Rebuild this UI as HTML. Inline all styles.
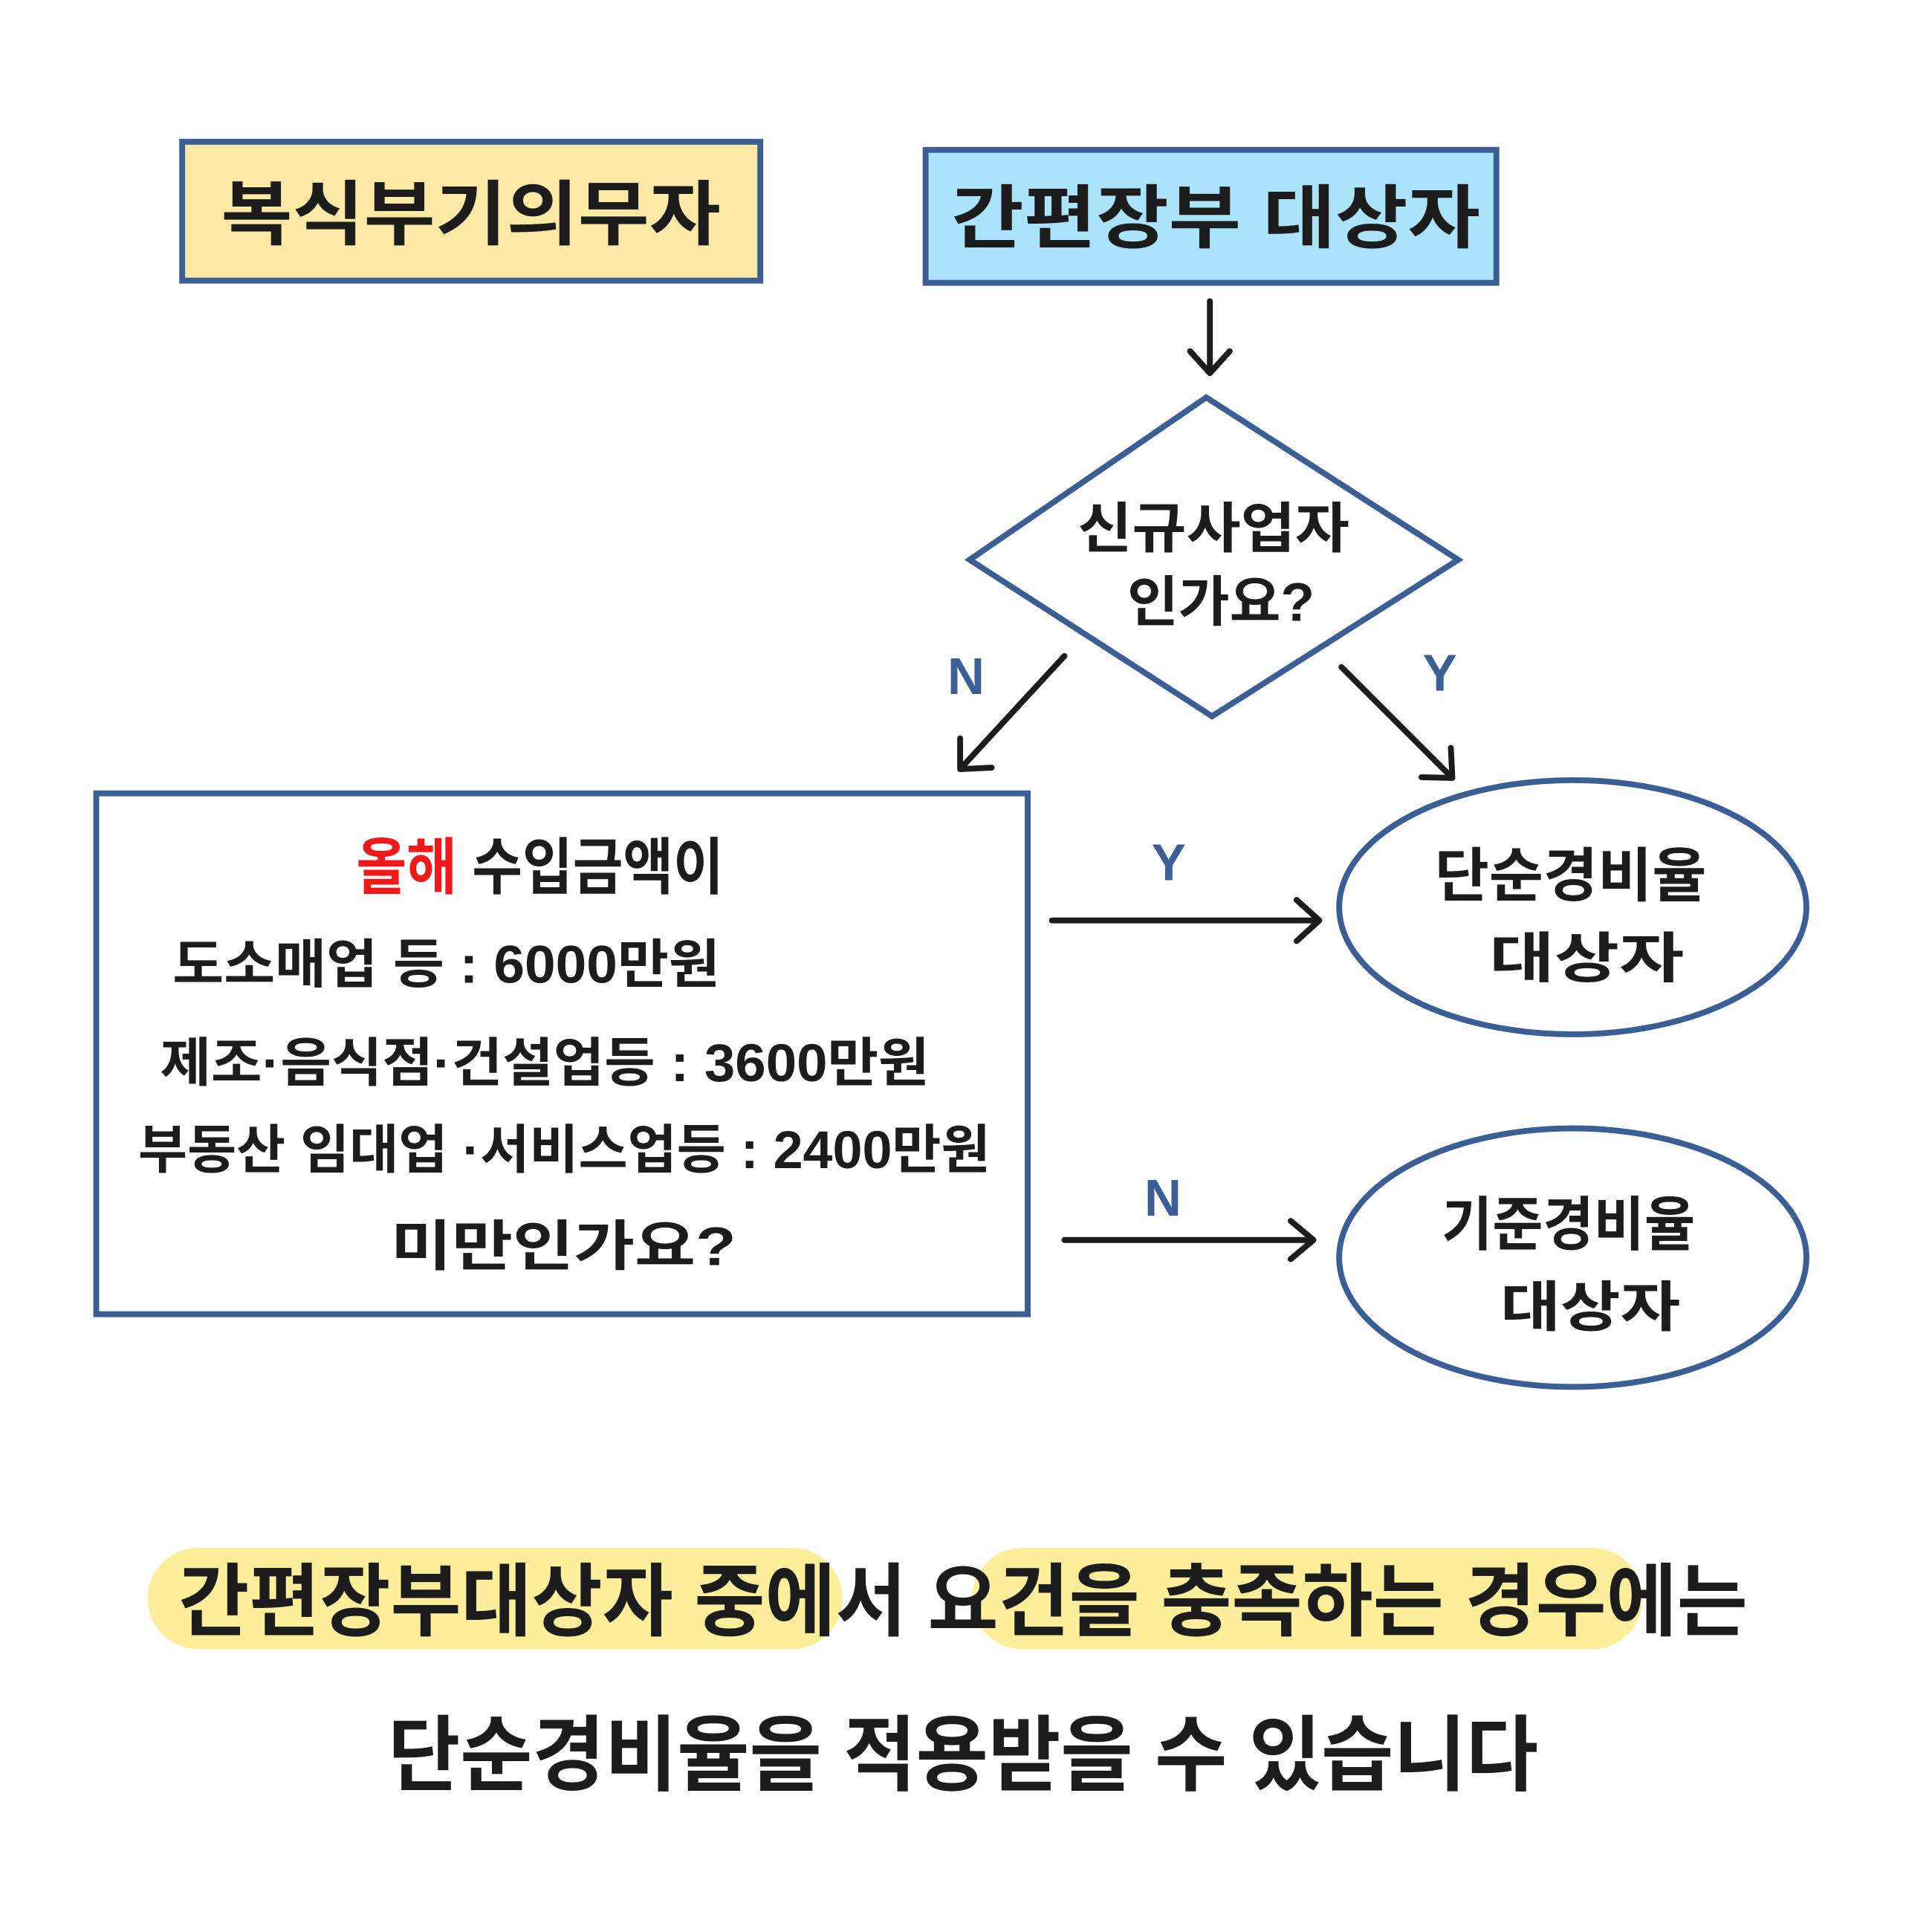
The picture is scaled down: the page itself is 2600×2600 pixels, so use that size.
<!DOCTYPE html>
<html><head><meta charset="utf-8"><style>
html,body{margin:0;padding:0;background:#fff;}
svg{display:block;}
text{font-family:"Liberation Sans","Noto Sans CJK KR","NanumGothic",sans-serif;font-weight:bold;fill:#1c1c1c;}
</style></head><body>
<svg width="2600" height="2600" viewBox="0 0 2600 2600" xmlns="http://www.w3.org/2000/svg">
<g transform="scale(0.9886)">
<!-- top boxes -->
<rect x="248" y="193" width="787" height="189" fill="#fde9a6" stroke="#3b5f95" stroke-width="8"/>
<text x="641" y="325" font-size="96" text-anchor="middle" textLength="680" lengthAdjust="spacingAndGlyphs">복식부기의무자</text>
<rect x="1260" y="204" width="777" height="181" fill="#aae3fb" stroke="#3b5f95" stroke-width="8"/>
<text x="1655" y="330" font-size="94" text-anchor="middle" textLength="720" lengthAdjust="spacingAndGlyphs">간편장부 대상자</text>

<g stroke="#1c1c1c" stroke-width="8" fill="none" stroke-linecap="round" stroke-linejoin="round">
<path d="M1647 410 L1647 508 M1620 478 L1647 508 L1674 478"/>
<path d="M1449 893 L1307 1047 M1307 1005 L1307 1047 L1350 1045"/>
<path d="M1826 908 L1977 1059 M1935 1058 L1977 1059 L1975 1018"/>
<path d="M1432 1253 L1796 1253 M1765 1225 L1796 1253 L1765 1281"/>
<path d="M1449 1688 L1788 1688 M1757 1662 L1788 1688 L1757 1714"/>
</g>

<polygon points="1642,541 1985,762 1650,975 1320,762" fill="#fff" stroke="#3b5f95" stroke-width="8"/>
<text x="1652" y="745" font-size="74" text-anchor="middle" textLength="370" lengthAdjust="spacingAndGlyphs">신규사업자</text>
<text x="1662" y="845" font-size="74" text-anchor="middle" textLength="255" lengthAdjust="spacingAndGlyphs">인가요?</text>

<g font-size="70">
<text x="1315" y="945" text-anchor="middle" style="fill:#3b5f95">N</text>
<text x="1960" y="940" text-anchor="middle" style="fill:#3b5f95">Y</text>
<text x="1591" y="1198" text-anchor="middle" style="fill:#3b5f95">Y</text>
<text x="1583" y="1655" text-anchor="middle" style="fill:#3b5f95">N</text>
</g>

<rect x="131" y="1080" width="1268" height="709" fill="#fff" stroke="#3b5f95" stroke-width="8"/>
<text x="485" y="1210" font-size="84" textLength="500" lengthAdjust="spacingAndGlyphs"><tspan style="fill:#f01818">올해</tspan> 수입금액이</text>
<text x="235" y="1338" font-size="72" textLength="745" lengthAdjust="spacingAndGlyphs">도소매업 등 : 6000만원</text>
<text x="218" y="1472" font-size="72" textLength="1047" lengthAdjust="spacingAndGlyphs">제조·음식점·건설업등 : 3600만원</text>
<text x="188" y="1590" font-size="72" textLength="1160" lengthAdjust="spacingAndGlyphs">부동산 임대업 ·서비스업등 : 2400만원</text>
<text x="532" y="1722" font-size="74" textLength="470" lengthAdjust="spacingAndGlyphs">미만인가요?</text>

<ellipse cx="2141" cy="1235" rx="318" ry="173" fill="#fff" stroke="#3b5f95" stroke-width="8"/>
<text x="2138" y="1220" font-size="80" text-anchor="middle" textLength="370" lengthAdjust="spacingAndGlyphs">단순경비율</text>
<text x="2160" y="1330" font-size="74" text-anchor="middle" textLength="265" lengthAdjust="spacingAndGlyphs">대상자</text>
<ellipse cx="2141" cy="1712" rx="318" ry="176" fill="#fff" stroke="#3b5f95" stroke-width="8"/>
<text x="2135" y="1695" font-size="80" text-anchor="middle" textLength="345" lengthAdjust="spacingAndGlyphs">기준경비율</text>
<text x="2165" y="1805" font-size="74" text-anchor="middle" textLength="245" lengthAdjust="spacingAndGlyphs">대상자</text>

<rect x="201" y="2107" width="946" height="138" rx="69" fill="#fbeb8a" opacity="0.85"/>
<rect x="1323" y="2107" width="913" height="138" rx="69" fill="#fbeb8a" opacity="0.85"/>
<text x="243" y="2218" font-size="108" textLength="2136" lengthAdjust="spacingAndGlyphs">간편장부대상자 중에서 요건을 충족하는 경우에는</text>
<text x="528" y="2428" font-size="112" textLength="1566" lengthAdjust="spacingAndGlyphs">단순경비율을 적용받을 수 있습니다</text>
</g>
</svg>
</body></html>
